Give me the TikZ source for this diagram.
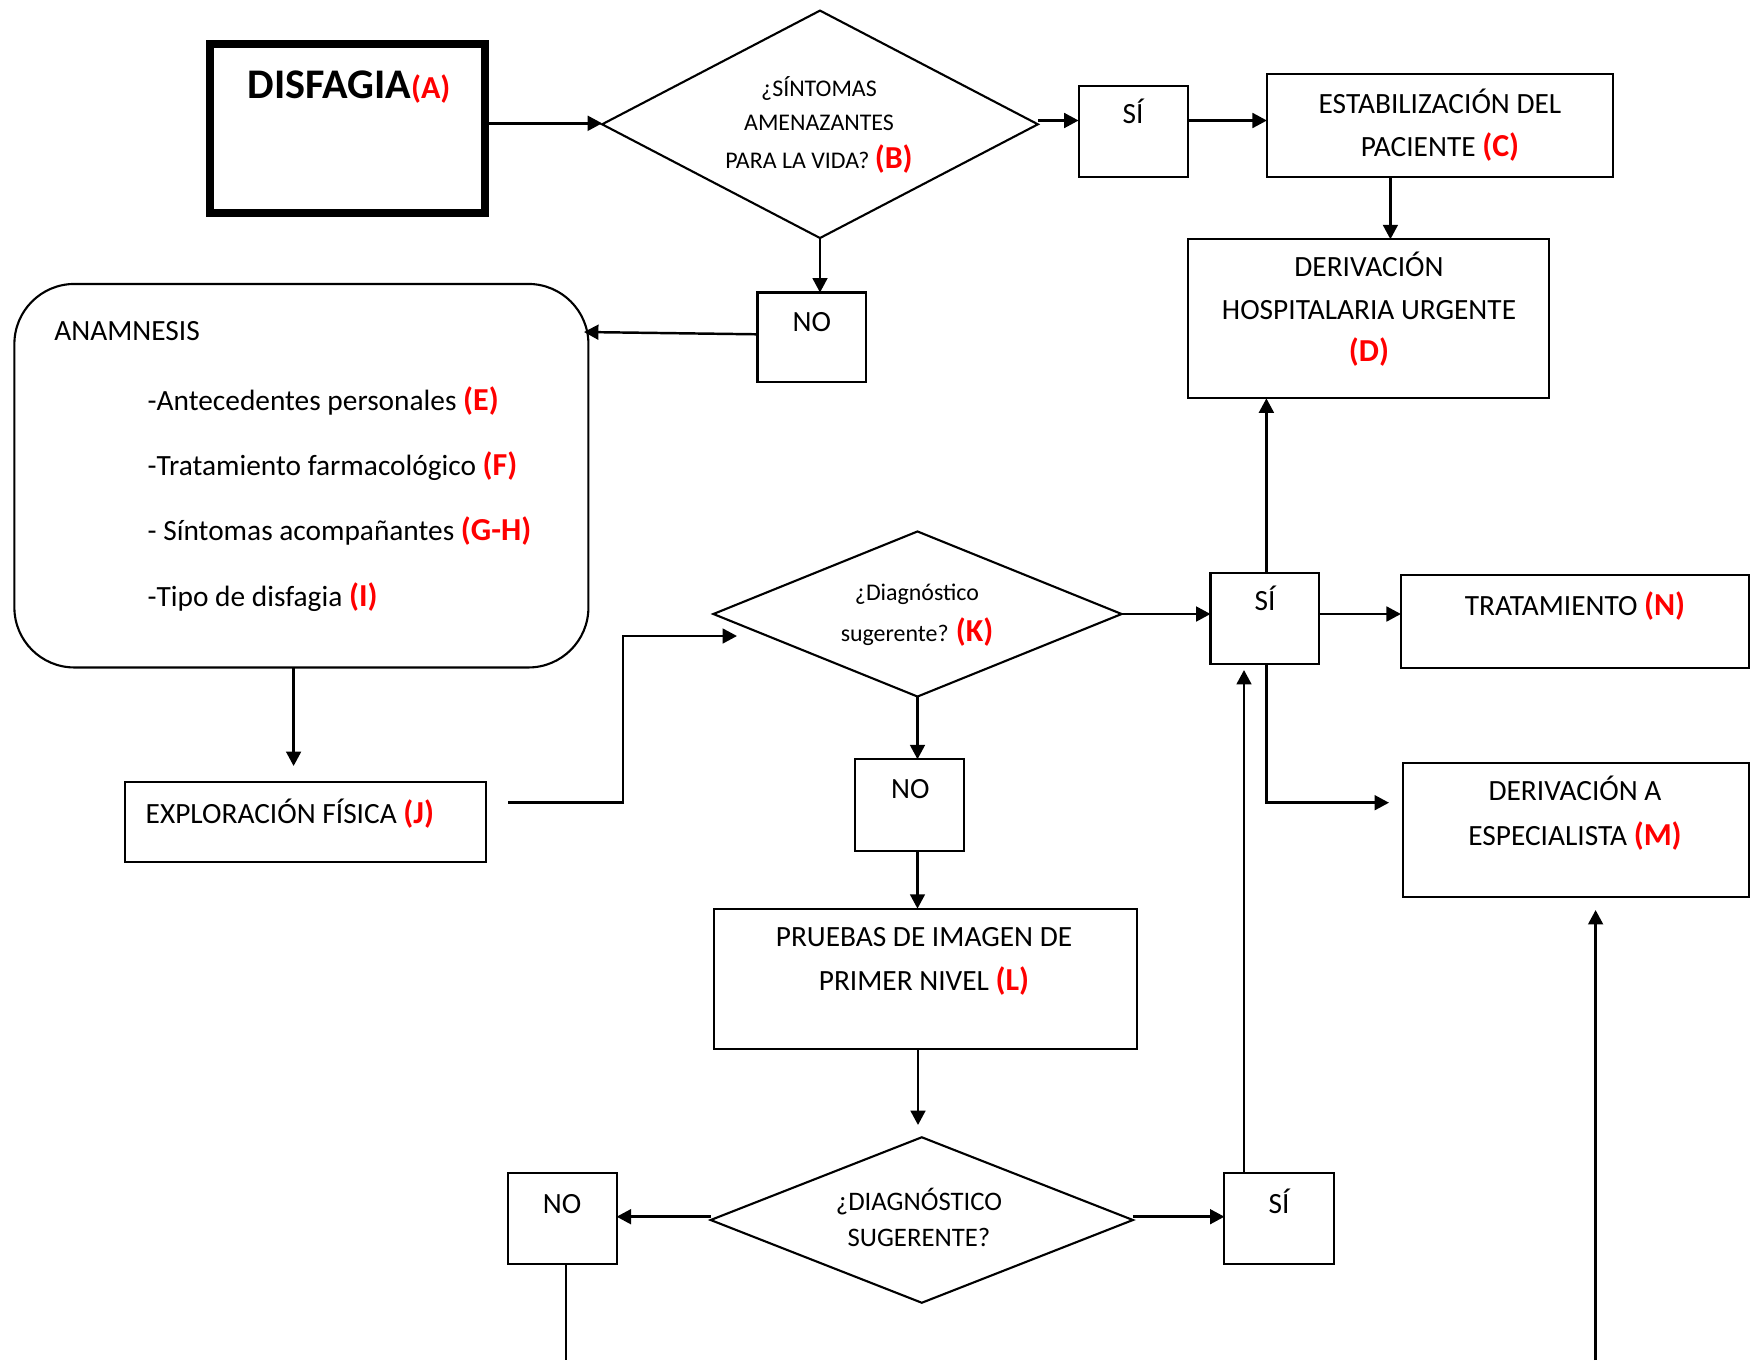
\documentclass[tikz,border=0pt]{standalone}
\usepackage{fontspec}
\setmainfont{Carlito}
\usetikzlibrary{shapes.geometric,arrows.meta,calc}
\newcommand\rl[1]{{\fontsize{9.1}{10}\selectfont\bfseries\color{red}#1}}
\begin{document}
\begin{tikzpicture}[x=0.01cm,y=-0.01cm,
  box/.style={draw, line width=0.6pt, inner sep=0pt, outer sep=0pt},
  dia/.style={draw, diamond, line width=0.6pt, inner sep=0pt, outer sep=0pt},
  arr/.style={line width=0.7pt, -{Triangle[length=4.1pt,width=4.2pt]}},
  ln/.style={line width=0.7pt},
  txt/.style={anchor=base, inner sep=0pt, font=\fontsize{8.35}{10}\selectfont},
  dtxt/.style={anchor=base, inner sep=0pt, font=\fontsize{6.8}{8}\selectfont},
  qtxt/.style={anchor=base, inner sep=0pt, font=\fontsize{7.6}{9}\selectfont}]
\fill[white] (0,0) rectangle (1757,1360);
\useasboundingbox (0,0) rectangle (1757,1360);

% A
\node[box, line width=2.28pt, minimum width=2.745cm, minimum height=1.688cm] (A) at (347.3,128.9) {};
\node[anchor=base, inner sep=0pt, font=\bfseries\fontsize{12}{14}\selectfont] (tA) at (349,98) {DISFAGIA{\color{red}\fontsize{9.1}{11}\selectfont(A)}};

% B
\node[dia, minimum width=4.355cm, minimum height=2.273cm] (B) at (820,124.3) {};
\node[dtxt] (tB1) at (819,96.7) {¿SÍNTOMAS};
\node[dtxt] (tB2) at (819,130) {AMENAZANTES};
\node[dtxt] (tB3) at (819,168) {PARA LA VIDA? \rl{(B)}};

% SI 1
\node[box, minimum width=1.094cm, minimum height=0.907cm] (S1) at (1133.3,131.4) {};
\node[txt] (tS1) at (1133,123.3) {SÍ};

% C
\node[box, minimum width=3.46cm, minimum height=1.027cm] (C) at (1440,125.3) {};
\node[txt] (tC1) at (1440,113.3) {ESTABILIZACIÓN DEL};
\node[txt] (tC2) at (1440,156.7) {PACIENTE \rl{(C)}};

% D
\node[box, minimum width=3.613cm, minimum height=1.59cm] (D) at (1368.6,318.8) {};
\node[txt] (tD1) at (1369,276.7) {DERIVACIÓN};
\node[txt] (tD2) at (1369,319) {HOSPITALARIA URGENTE};
\node[txt] (tD3) at (1369,361.7) {\rl{(D)}};

% NO 1
\node[box, minimum width=1.086cm, minimum height=0.896cm] (NO1) at (811.8,337.3) {};
\node[txt] (tNO1) at (811.8,331) {NO};

% Anamnesis
\node[box, rounded corners=0.6cm, minimum width=5.737cm, minimum height=3.833cm] (E) at (301.4,475.7) {};
\node[txt, anchor=base west] (e0) at (53.6,340) {ANAMNESIS};
\node[txt, anchor=base west] (e1) at (147,410) {-Antecedentes personales \rl{(E)}};
\node[txt, anchor=base west] (e2) at (147,475) {-Tratamiento farmacológico \rl{(F)}};
\node[txt, anchor=base west] (e3) at (147,540) {- Síntomas acompañantes \rl{(G-H)}};
\node[txt, anchor=base west] (e4) at (147,606.7) {-Tipo de disfagia \rl{(I)}};

% J
\node[box, minimum width=3.607cm, minimum height=0.797cm] (J) at (305.4,822.2) {};
\node[txt, anchor=base west] (tJ) at (145,823) {EXPLORACIÓN FÍSICA \rl{(J)}};

% K
\node[dia, minimum width=4.08cm, minimum height=1.65cm] (K) at (917.5,614) {};
\node[dtxt] (tK1) at (917,600) {¿Diagnóstico};
\node[dtxt] (tK2) at (917,641.7) {sugerente? \rl{(K)}};

% SI 2
\node[box, minimum width=1.085cm, minimum height=0.907cm] (S2) at (1264.8,618.7) {};
\node[txt] (tS2) at (1265,610) {SÍ};

% N
\node[box, minimum width=3.476cm, minimum height=0.927cm] (N) at (1574.8,621.4) {};
\node[txt] (tN) at (1575,615) {TRATAMIENTO \rl{(N)}};

% M
\node[box, minimum width=3.456cm, minimum height=1.34cm] (M) at (1575.8,829.7) {};
\node[txt] (tM1) at (1575,800) {DERIVACIÓN A};
\node[txt] (tM2) at (1575,845) {ESPECIALISTA \rl{(M)}};

% NO 2
\node[box, minimum width=1.093cm, minimum height=0.914cm] (NO2) at (909.7,805) {};
\node[txt] (tNO2) at (910.4,798) {NO};

% L
\node[box, minimum width=4.221cm, minimum height=1.406cm] (L) at (925.4,979) {};
\node[txt] (tL1) at (924,946.7) {PRUEBAS DE IMAGEN DE};
\node[txt] (tL2) at (924,990) {PRIMER NIVEL \rl{(L)}};

% Q3
\node[dia, minimum width=4.22cm, minimum height=1.654cm] (Q3) at (921.8,1220) {};
\node[qtxt] (tQ1) at (919,1210) {¿DIAGNÓSTICO};
\node[qtxt] (tQ2) at (919,1246.7) {SUGERENTE?};

% NO 3, SI 3
\node[box, minimum width=1.09cm, minimum height=0.907cm] (NO3) at (562.1,1218.7) {};
\node[txt] (tNO3) at (562,1213.3) {NO};
\node[box, minimum width=1.091cm, minimum height=0.907cm] (S3) at (1279,1218.7) {};
\node[txt] (tS3) at (1279,1213.3) {SÍ};

% connectors
\coordinate (yA) at (0,123.3);
\draw[arr] (A.east |- yA) -- (B.west |- yA);
\coordinate (yB) at (0,120.5);
\draw[arr] (B.east |- yB) -- (S1.west |- yB);
\draw[arr] (S1.east |- yB) -- (C.west |- yB);
\coordinate (xCD) at (1390.4,0);
\draw[arr] (C.south -| xCD) -- (D.north -| xCD);
\draw[arr] (B.south) -- (B.south |- NO1.north);
\coordinate (anamIn) at (584,332);
\draw[arr] ($(NO1.west)+(0,-3)$) -- (anamIn);
\coordinate (ajTip) at (293.6,766);
\draw[arr] (E.south -| ajTip) -- (ajTip);
\coordinate (jkStart) at (508,802.3);
\coordinate (jkBend) at (623,636);
\coordinate (jkTip) at (737,636);
\draw[arr] (jkStart) -| (jkBend) -- (jkTip);
\draw[arr] (K.east) -- (K.east -| S2.west);
\draw[arr] (S2.east |- K.east) -- (N.west |- K.east);
\coordinate (xSD) at (1266.4,0);
\draw[arr] (S2.north -| xSD) -- (D.south -| xSD);
\coordinate (mTip) at (1389,802.7);
\draw[arr] (S2.south -| xSD) |- (mTip);
\draw[arr] (K.south) -- (K.south |- NO2.north);
\draw[arr] (K.south |- NO2.south) -- (K.south |- L.north);
\coordinate (lqTip) at (918,1125);
\draw[arr] (L.south -| lqTip) -- (lqTip);
\coordinate (yQ) at (0,1216.7);
\draw[arr] (Q3.west |- yQ) -- (NO3.east |- yQ);
\draw[arr] (Q3.east |- yQ) -- (S3.west |- yQ);
\coordinate (s32Tip) at (1244,670);
\draw[arr] (S3.north -| s32Tip) -- (s32Tip);
\coordinate (no3End) at (566,1360);
\draw[ln] (NO3.south -| no3End) -- (no3End);
\coordinate (mBot) at (1595.6,1360);
\coordinate (mTip2) at (1595.6,910);
\draw[arr] (mBot) -- (mTip2);
\end{tikzpicture}
\end{document}
